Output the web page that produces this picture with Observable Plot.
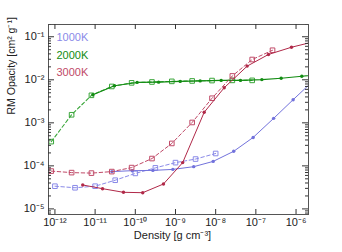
<!DOCTYPE html>
<html><head><meta charset="utf-8">
<script src="https://cdn.jsdelivr.net/npm/d3@7"></script>
<script src="https://cdn.jsdelivr.net/npm/@observablehq/plot@0.6"></script>
<style>body{margin:0;background:#fff} svg{display:block}</style>
</head><body><div id="chart"></div>
<script>
// ---- data (density in g cm^-3, opacity in cm^2 g^-1) ----
const series = ["1000K", "2000K", "3000K"];

const blueSqX = [1e-12, 3.16e-12, 1e-11, 3.16e-11, 1e-10, 3.16e-10, 1e-9, 3.16e-9, 1e-8];
const blueSqY = [3.37e-5, 3.10e-5, 3.37e-5, 4.64e-5, 6.68e-5, 8.98e-5, 1.19e-4, 1.44e-4, 1.94e-4];
const blueDotX = [2.62e-11, 8.38e-11, 2.74e-10, 8.61e-10, 2.84e-9, 8.67e-9, 2.81e-8, 8.57e-8, 2.77e-7, 8.47e-7, 2.66e-6];
const blueDotY = [7.36e-5, 7.73e-5, 7.85e-5, 8.28e-5, 9.58e-5, 1.27e-4, 2.18e-4, 4.58e-4, 1.27e-3, 3.45e-3, 9.4e-3];

const greenSqX = [8.1e-13, 2.6e-12, 8.1e-12, 2.6e-11, 8.1e-11, 2.6e-10, 8.1e-10, 2.6e-9, 8.1e-9, 2.6e-8, 8.1e-8];
const greenSqY = [3.66e-4, 1.54e-3, 4.36e-3, 7.0e-3, 8.5e-3, 8.9e-3, 9.2e-3, 9.4e-3, 9.6e-3, 9.7e-3, 9.7e-3];
const greenDotX = [8.8e-12, 3.04e-11, 1.11e-10, 3.8e-10, 1.31e-9, 4.11e-9, 1.37e-8, 4.14e-8, 1.41e-7, 4.26e-7, 1.39e-6, 4.5e-6];
const greenDotY = [4.49e-3, 7.28e-3, 8.69e-3, 8.83e-3, 9.18e-3, 9.42e-3, 9.68e-3, 9.68e-3, 1.01e-2, 1.09e-2, 1.21e-2, 1.35e-2];

const redSqX = [8.1e-13, 2.6e-12, 8.1e-12, 2.6e-11, 8.1e-11, 2.6e-10, 8.1e-10, 2.6e-9, 8.1e-9, 2.6e-8, 8.1e-8, 2.6e-7];
const redSqY = [7.56e-5, 6.97e-5, 6.79e-5, 7.36e-5, 9.12e-5, 1.48e-4, 3.32e-4, 1.02e-3, 3.73e-3, 1.23e-2, 2.96e-2, 4.86e-2];
const redDotX = [4.92e-12, 1.53e-11, 5.08e-11, 1.53e-10, 5.02e-10, 1.51e-9, 5.18e-9, 1.63e-8, 6.08e-8, 2.06e-7, 7.69e-7, 2.5e-6];
const redDotY = [3.60e-5, 2.95e-5, 2.43e-5, 2.38e-5, 3.79e-5, 1.19e-4, 1.76e-3, 6.53e-3, 2.08e-2, 3.88e-2, 5.71e-2, 7.48e-2];

const xTicks = [1e-12, 1e-11, 1e-10, 1e-9, 1e-8, 1e-7, 1e-6];
const yTicks = [1e-5, 1e-4, 1e-3, 1e-2, 1e-1];
const yMinor = [];
for (const e of [-6, -5, -4, -3, -2, -1]) for (const k of [2,3,4,5,6,7,8,9]) yMinor.push(k * Math.pow(10, e));

const xLabel = "Density [g cm⁻³]";
const yLabel = "RM Opacity [cm² g⁻¹]";

// ---- styling ----
const colors = {blue: "#7272dc", blueL: "#8a8ae8", green: "#128c12", greenL: "#3aa63a", red: "#b02848", redL: "#c04a68"};
const W = 342, H = 252, mL = 48, mR = 34, mT = 24, mB = 38;
const pw = W - mL - mR, ph = H - mT - mB;
const supMap = {"-": "⁻", "0": "⁰", "1": "¹", "2": "²", "3": "³", "4": "⁴", "5": "⁵", "6": "⁶", "7": "⁷", "8": "⁸", "9": "⁹"};
const fmt = d => "10" + String(Math.round(Math.log10(d))).split("").map(c => supMap[c]).join("");
const pts = (xs, ys) => xs.map((x, i) => ({x, y: ys[i]}));
const dash = "3.5,2.5";
const tickC = "#333";

const chart = Plot.plot({
  width: W, height: H,
  marginLeft: mL, marginRight: mR, marginTop: mT, marginBottom: mB,
  style: {fontFamily: "'Liberation Sans', Arial, sans-serif", background: "#fff", color: "#222"},
  x: {type: "log", domain: [Math.pow(10, -12.16), Math.pow(10, -5.69)], axis: null},
  y: {type: "log", domain: [Math.pow(10, -5.13), Math.pow(10, -0.715)], axis: null},
  marks: [
    // series
    Plot.line(pts(blueSqX, blueSqY), {x: "x", y: "y", stroke: colors.blueL, strokeDasharray: dash, strokeWidth: 1, clip: true}),
    Plot.dot(pts(blueSqX, blueSqY), {x: "x", y: "y", symbol: "square", r: 2.6, stroke: colors.blueL, fill: "none", strokeWidth: 1, clip: true}),
    Plot.line(pts(blueDotX, blueDotY), {x: "x", y: "y", stroke: colors.blue, strokeWidth: 1, clip: true}),
    Plot.dot(pts(blueDotX, blueDotY), {x: "x", y: "y", r: 1.7, fill: colors.blue, clip: true}),

    Plot.line(pts(greenSqX, greenSqY), {x: "x", y: "y", stroke: colors.greenL, strokeDasharray: dash, strokeWidth: 1.1, clip: true}),
    Plot.dot(pts(greenSqX, greenSqY), {x: "x", y: "y", symbol: "square", r: 2.6, stroke: colors.greenL, fill: "none", strokeWidth: 1, clip: true}),
    Plot.line(pts(greenDotX, greenDotY), {x: "x", y: "y", stroke: colors.green, strokeWidth: 1.1, clip: true}),
    Plot.dot(pts(greenDotX, greenDotY), {x: "x", y: "y", r: 1.7, fill: colors.green, clip: true}),

    Plot.line(pts(redSqX, redSqY), {x: "x", y: "y", stroke: colors.redL, strokeDasharray: dash, strokeWidth: 1, clip: true}),
    Plot.dot(pts(redSqX, redSqY), {x: "x", y: "y", symbol: "square", r: 2.6, stroke: colors.redL, fill: "none", strokeWidth: 1, clip: true}),
    Plot.line(pts(redDotX, redDotY), {x: "x", y: "y", stroke: colors.red, strokeWidth: 1, clip: true}),
    Plot.dot(pts(redDotX, redDotY), {x: "x", y: "y", r: 1.7, fill: colors.red, clip: true}),

    // frame and inward ticks
    Plot.frame({stroke: "#555", strokeWidth: 1}),
    Plot.ruleX(xTicks, {x: d => d, insetTop: ph - 5, stroke: tickC}),
    Plot.ruleX(xTicks, {x: d => d, insetBottom: ph - 5, stroke: tickC}),
    Plot.ruleY(yTicks, {y: d => d, insetRight: pw - 6, stroke: tickC}),
    Plot.ruleY(yTicks, {y: d => d, insetLeft: pw - 6, stroke: tickC}),
    Plot.ruleY(yMinor, {y: d => d, insetRight: pw - 3, stroke: tickC, clip: true}),
    Plot.ruleY(yMinor, {y: d => d, insetLeft: pw - 3, stroke: tickC, clip: true}),

    // tick labels
    Plot.text(xTicks, {x: d => d, frameAnchor: "bottom", dy: 11, text: fmt, fontSize: 11, fill: "#222"}),
    Plot.text(yTicks, {y: d => d, frameAnchor: "left", dx: -4, textAnchor: "end", text: fmt, fontSize: 11, fill: "#222"}),

    // axis titles
    Plot.text([xLabel], {frameAnchor: "bottom", dx: -6, dy: 24, text: d => d, fontSize: 11, fill: "#222"}),
    Plot.text([yLabel], {frameAnchor: "left", dx: -37, dy: -5, rotate: -90, text: d => d, fontSize: 10.5, fill: "#222"}),

    // legend
    Plot.text([series[0]], {frameAnchor: "top-left", dx: 8, dy: 9, textAnchor: "start", text: d => d, fontSize: 11, fill: colors.blueL}),
    Plot.text([series[1]], {frameAnchor: "top-left", dx: 8, dy: 26.5, textAnchor: "start", text: d => d, fontSize: 11, fill: colors.green}),
    Plot.text([series[2]], {frameAnchor: "top-left", dx: 8, dy: 44, textAnchor: "start", text: d => d, fontSize: 11, fill: colors.redL})
  ]
});
document.getElementById("chart").append(chart);
</script>
</body></html>
